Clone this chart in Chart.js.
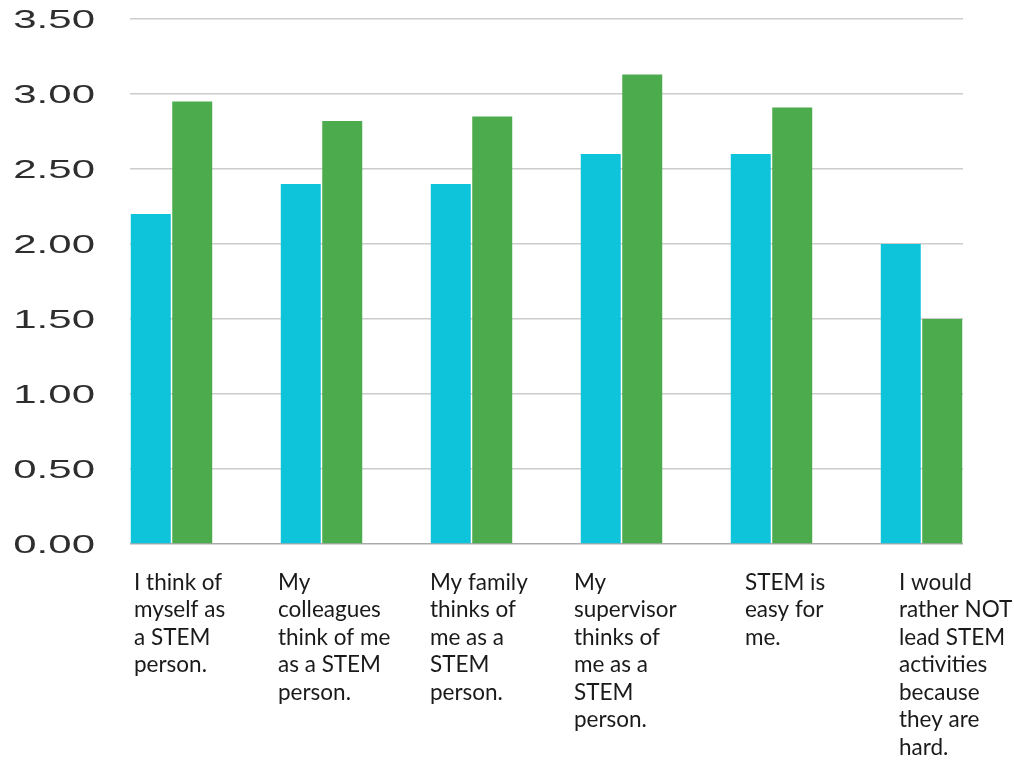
<!DOCTYPE html>
<html><head><meta charset="utf-8">
<script src="https://cdn.jsdelivr.net/npm/chart.js@4/dist/chart.umd.min.js"></script>
<style>html,body{margin:0;padding:0;background:#fff}#wrap{width:1014px;height:763px}</style>
</head><body><div id="wrap"><canvas id="c" width="1014" height="763"></canvas></div>
<script>
const categories = [
  ["I think of","myself as","a STEM","person."],
  ["My","colleagues","think of me","as a STEM","person."],
  ["My family","thinks of","me as a","STEM","person."],
  ["My","supervisor","thinks of","me as a","STEM","person."],
  ["STEM is","easy for","me."],
  ["I would","rather NOT","lead STEM","activities","because","they are","hard."]
];
const seriesA = [2.20, 2.40, 2.40, 2.60, 2.60, 2.00];
const seriesB = [2.95, 2.82, 2.85, 3.13, 2.91, 1.50];
const yMin = 0, yMax = 3.5, yStep = 0.5;

// layout only: where each label's left edge sits relative to its group (fraction of a group slot)
const labelShift = [-0.25, -0.29, -0.277, -0.317, -0.177, -0.15];

const toPoints = vals => vals.map((v, i) => ({x: i, y: v}));

const yLabelPlugin = {
  id: 'yLabels',
  afterDraw(chart) {
    const s = chart.scales.y, ctx = chart.ctx;
    ctx.save();
    ctx.font = '25px "Liberation Sans", Arial, sans-serif';
    ctx.fillStyle = '#2e2e2e';
    ctx.textAlign = 'right';
    ctx.textBaseline = 'alphabetic';
    s.ticks.forEach(t => {
      const y = s.getPixelForValue(t.value);
      ctx.save();
      ctx.translate(95, y + 9);
      ctx.scale(1.68, 1);
      ctx.fillText(Number(t.value).toFixed(2), 0, 0);
      ctx.restore();
    });
    ctx.restore();
  }
};

const xMin = -0.2767, xMax = 5.2767;

new Chart(document.getElementById('c'), {
  type: 'bar',
  data: {
    datasets: [
      {data: toPoints(seriesA), backgroundColor: '#0DC4DB', borderWidth: 0},
      {data: toPoints(seriesB), backgroundColor: '#4CAB4C', borderWidth: 0}
    ]
  },
  options: {
    responsive: false,
    animation: false,
    devicePixelRatio: 1,
    categoryPercentage: 0.553,
    barPercentage: 0.964,
    layout: {autoPadding: false, padding: {left: 130, right: 51, top: 19, bottom: 0}},
    plugins: {legend: {display: false}, tooltip: {enabled: false}},
    scales: {
      x: {
        type: 'linear',
        display: false,
        offset: false,
        min: xMin, max: xMax,
        grid: {display: false, drawTicks: false},
        ticks: {stepSize: 1, includeBounds: false},
        afterFit: s => { s.height = 0; s.paddingLeft = 0; s.paddingRight = 0; }
      },
      xl: {
        type: 'linear',
        position: 'bottom',
        offset: false,
        min: xMin, max: xMax,
        grid: {display: false, drawTicks: false},
        border: {display: false},
        afterBuildTicks: s => { s.ticks = categories.map((c, i) => ({value: i + labelShift[i]})); },
        afterFit: s => { s.height = 219; s.paddingLeft = 0; s.paddingRight = 0; },
        ticks: {
          autoSkip: false, maxRotation: 0, includeBounds: false,
          align: 'start', padding: 25,
          color: '#1a1a1a',
          font: {family: 'Lato, "Open Sans", sans-serif', size: 22.5, lineHeight: 1.222},
          callback: (v, i) => categories[i] || ''
        }
      },
      y: {
        min: yMin, max: yMax,
        ticks: {display: false, stepSize: yStep},
        grid: {drawTicks: false, lineWidth: 1.5, color: c => c.tick && c.tick.value === 0 ? '#aaaaaa' : '#cccccc'},
        border: {display: false},
        afterFit: s => { s.width = 0; s.paddingTop = 0; s.paddingBottom = 0; }
      }
    }
  },
  plugins: [yLabelPlugin]
});
</script>
</body></html>
